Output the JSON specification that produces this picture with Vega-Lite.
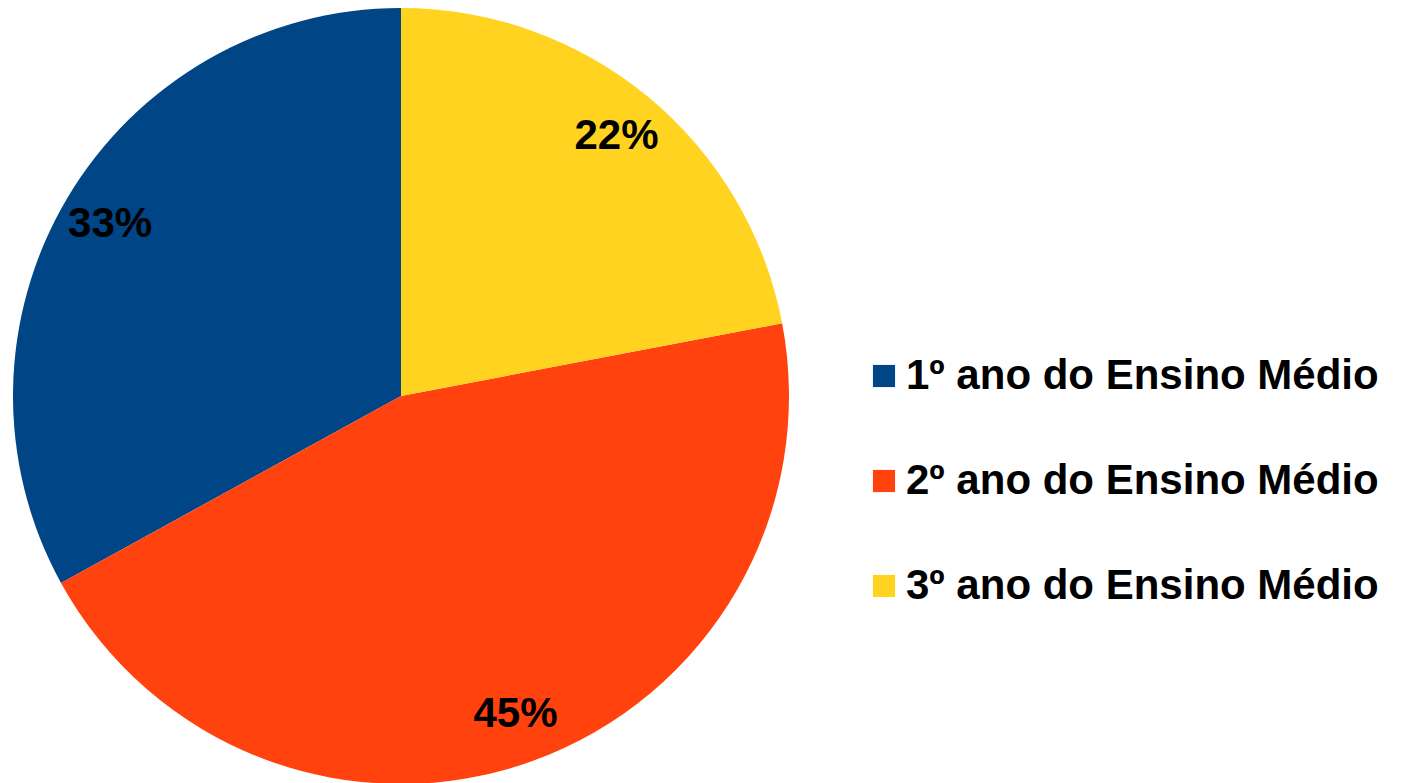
{
  "$schema": "https://vega.github.io/schema/vega-lite/v6.json",
  "width": 802,
  "height": 776,
  "padding": {"left": 0, "top": 8, "right": 0, "bottom": 0},
  "background": "white",
  "config": {"view": {"stroke": null}},
  "data": {
    "values": [
      {"ano": "1º ano do Ensino Médio", "pct": 33},
      {"ano": "2º ano do Ensino Médio", "pct": 45},
      {"ano": "3º ano do Ensino Médio", "pct": 22}
    ]
  },
  "transform": [{"calculate": "datum.pct + '%'", "as": "lbl"}],
  "encoding": {
    "theta": {"field": "pct", "type": "quantitative", "stack": true},
    "order": {"field": "ano", "sort": "descending"}
  },
  "layer": [
    {
      "mark": {"type": "arc", "outerRadius": 388},
      "encoding": {
        "color": {
          "field": "ano",
          "type": "nominal",
          "scale": {
            "domain": ["1º ano do Ensino Médio", "2º ano do Ensino Médio", "3º ano do Ensino Médio"],
            "range": ["#004586", "#FF420E", "#FFD320"]
          },
          "legend": {
            "title": null,
            "orient": "none",
            "legendX": 863,
            "legendY": 347,
            "symbolType": "square",
            "symbolSize": 490,
            "symbolStrokeWidth": 0,
            "labelFont": "Liberation Sans",
            "labelFontWeight": "bold",
            "labelFontSize": 42,
            "labelColor": "black",
            "labelOffset": 1,
            "labelLimit": 700,
            "rowPadding": 63
          }
        }
      }
    },
    {
      "mark": {"type": "text", "radius": 338, "font": "Liberation Sans", "fontWeight": "bold", "fontSize": 42, "color": "black"},
      "encoding": {
        "text": {"field": "lbl", "type": "nominal"},
        "detail": {"field": "ano"}
      }
    }
  ]
}
